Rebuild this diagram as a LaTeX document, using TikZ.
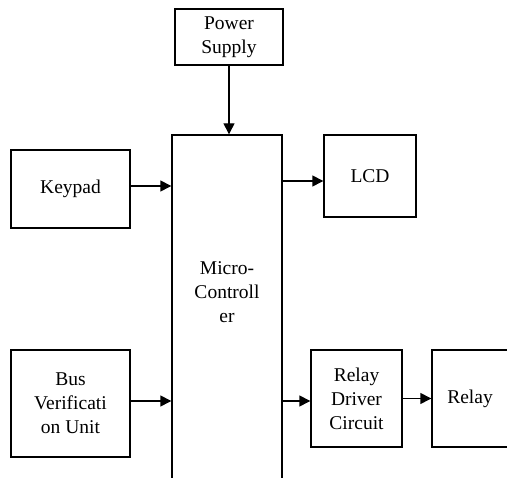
\documentclass[tikz,border=0pt]{standalone}
\usepackage{fontspec}
\setmainfont{Liberation Serif}
\usetikzlibrary{arrows.meta, positioning, calc}

\begin{document}
\begin{tikzpicture}[
        x=1pt, y=-1pt,
        >={Triangle[length=11pt,width=11pt]},
        blockNode/.style={
            draw=black,
            line width=1.4pt,
            inner sep=0pt,
            font=\fontsize{19.5}{24}\selectfont,
            align=center
        },
        arrowLine/.style={
            ->,
            black,
            line width=1.4pt
        }
    ]
    \clip[use as bounding box] (0,0) rectangle (507,478);

    \node[blockNode, minimum width=108pt, minimum height=56pt] (power) at (229,37) {Power\\ Supply};
    \node[blockNode, minimum width=110pt, minimum height=365pt] (mcu) at (227,317.5) {};
    \node[font=\fontsize{19.5}{24}\selectfont, align=center] (mcuText) at (227,292) {Micro-\\ Controll\\ er};
    \node[blockNode, minimum width=119pt, minimum height=78pt] (keypad) at (70.5,189) {Keypad};
    \node[blockNode, minimum width=92pt, minimum height=82pt] (lcd) at (370,176) {LCD};
    \node[blockNode, minimum width=119pt, minimum height=107pt] (bus) at (70.5,403.5) {Bus\\ Verificati\\ on Unit};
    \node[blockNode, minimum width=91pt, minimum height=97pt] (driver) at (356.5,398.5) {Relay\\ Driver\\ Circuit};
    \node[blockNode, minimum width=76pt, minimum height=97pt] (relay) at (470,398.5) {Relay};

    % Supply into the controller
    \draw[arrowLine] (power.south) -- (power.south |- mcu.north);

    % Inputs
    \draw[arrowLine] ($(keypad.east)+(0,-3)$) -- ($(keypad.east -| mcu.west)+(0,-3)$);
    \draw[arrowLine] ($(bus.east)+(0,-2.5)$) -- ($(bus.east -| mcu.west)+(0,-2.5)$);

    % Outputs
    \draw[arrowLine] ($(mcu.east |- lcd.west)+(0,5)$) -- ($(lcd.west)+(0,5)$);
    \draw[arrowLine] ($(mcu.east |- driver.west)+(0,2.5)$) -- ($(driver.west)+(0,2.5)$);
    \draw[arrowLine] (driver.east) -- (relay.west);

\end{tikzpicture}
\end{document}
